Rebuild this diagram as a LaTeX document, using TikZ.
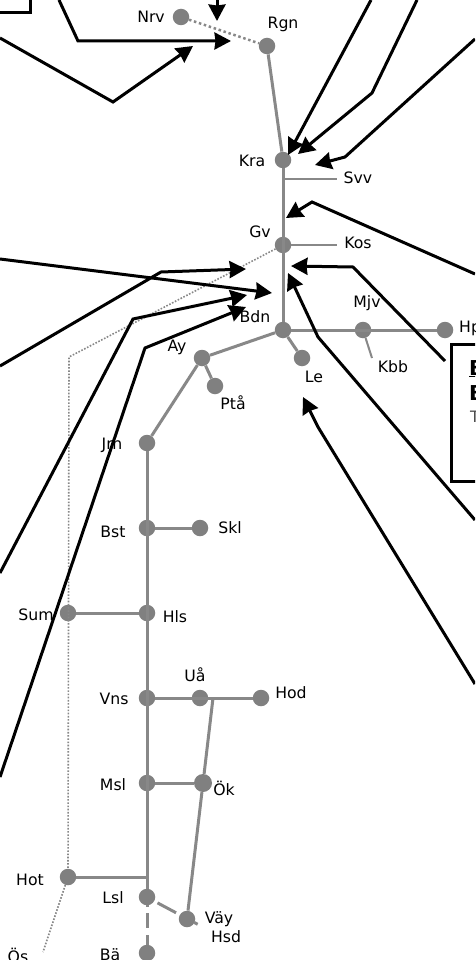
\documentclass[tikz,border=0pt]{standalone}
\usepackage{fontspec}
\setmainfont{DejaVu Sans}
\usetikzlibrary{arrows.meta}
\definecolor{linegray}{HTML}{888888}
\definecolor{stngray}{HTML}{808080}
\tikzset{
	stn/.style={circle,fill=stngray,inner sep=0pt,minimum size=16.5pt},
	lbl/.style={inner sep=0pt,font=\fontsize{15.7}{16}\selectfont,text=black},
	track/.style={linegray,line width=3pt},
	branch/.style={linegray,line width=2pt},
	flow/.style={-{Stealth[length=16.5pt,width=17pt,inset=1pt]},black,line width=3pt,miter limit=4},
	legend/.style={black,line width=3pt},
	boxhead/.style={lbl,anchor=base west,font=\fontsize{20.5}{21}\selectfont\bfseries}
}
\begin{document}
\begin{tikzpicture}[x=1pt,y=-1pt]
	\useasboundingbox (0,0) rectangle (475,960);
	\clip (0,0) rectangle (475,960);
	% Stations
	\node[stn] (nrv) at (181,17) {};
	\node[stn] (rgn) at (267,46) {};
	\node[stn] (kra) at (283,160) {};
	\node[stn] (gv) at (283,245) {};
	\node[stn] (bdn) at (283,330) {};
	\node[stn] (mjv) at (363,330) {};
	\node[stn] (hp) at (445,330) {};
	\node[stn] (le) at (302,358) {};
	\node[stn] (ay) at (202,358) {};
	\node[stn] (pta) at (215,386) {};
	\node[stn] (jrn) at (147,443) {};
	\node[stn] (bst) at (147,528) {};
	\node[stn] (skl) at (200,528) {};
	\node[stn] (sum) at (68,613) {};
	\node[stn] (hls) at (147,613) {};
	\node[stn] (vns) at (147,698) {};
	\node[stn] (ua) at (200,698) {};
	\node[stn] (hod) at (261,698) {};
	\node[stn] (msl) at (147,783) {};
	\node[stn,minimum size=18pt] (ok) at (203,783) {};
	\node[stn] (hot) at (68,877) {};
	\node[stn] (lsl) at (147,897) {};
	\node[stn] (vay) at (187,919) {};
	\node[stn] (ba) at (147,953) {};
	% Free ends of the grey lines
	\coordinate (svv) at (337,179);
	\coordinate (svvj) at (283,179);
	\coordinate (kos) at (337,245);
	\coordinate (kbb) at (372,358);
	\coordinate (hotj) at (147,877);
	\coordinate (uaj) at (213,698);
	\coordinate (vaydash) at (154,901);
	\coordinate (vayend) at (199,925);
	\coordinate (dotbend) at (69,357);
	\coordinate (os) at (43,952);
	% Grey lines
	\draw[track] (rgn) -- (kra);
	\draw[track] (kra) -- (bdn);
	\draw[branch] (svvj) -- (svv);
	\draw[branch] (gv) -- (kos);
	\draw[track] (bdn) -- (hp);
	\draw[branch] (mjv) -- (kbb);
	\draw[track] (bdn) -- (ay);
	\draw[track] (bdn) -- (le);
	\draw[track] (ay) -- (pta);
	\draw[track] (ay) -- (jrn);
	\draw[track] (jrn) -- (hotj) -- (lsl);
	\draw[track] (bst) -- (skl);
	\draw[track] (sum) -- (hls);
	\draw[track] (vns) -- (hod);
	\draw[track] (msl) -- (ok);
	\draw[track] (hot) -- (hotj);
	\draw[track] (uaj) -- (ok);
	\draw[track] (ok) -- (vay);
	\draw[track,dash pattern=on 0pt off 4pt on 21pt off 20.5pt on 4pt off 100pt] (vaydash) -- (vayend);
	\draw[track,dash pattern=on 2pt off 6pt on 15pt off 7pt on 10pt off 100pt] (lsl) -- (ba);
	% Dotted lines
	\draw[linegray,line width=2.5pt,dash pattern=on 2.5pt off 2.7pt] (nrv) -- (rgn);
	\draw[linegray,line width=1.6pt,dash pattern=on 1.6pt off 1.6pt] (gv) -- (dotbend) -- (hot);
	\draw[linegray,line width=1.6pt,dash pattern=on 1.6pt off 1.6pt] (hot) -- (os);
	% Labels
	\node[lbl] (nrvt) at (151,17) {Nrv};
	\node[lbl] (rgnt) at (283,24) {Rgn};
	\node[lbl] (krat) at (252,161) {Kra};
	\node[lbl] (svvt) at (358,178) {Svv};
	\node[lbl] (gvt) at (260,232) {Gv};
	\node[lbl] (kost) at (358,243) {Kos};
	\node[lbl] (bdnt) at (255,317) {Bdn};
	\node[lbl] (mjvt) at (367,303) {Mjv};
	\node[lbl,anchor=west] (hpt) at (459,328) {Hp};
	\node[lbl] (kbbt) at (393,367) {Kbb};
	\node[lbl] (ayt) at (177,347) {Ay};
	\node[lbl] (let) at (314,377) {Le};
	\node[lbl] (ptat) at (233,403) {Ptå};
	\node[lbl] (jrnt) at (112,445) {Jrn};
	\node[lbl] (bstt) at (113,532) {Bst};
	\node[lbl] (sklt) at (230,528) {Skl};
	\node[lbl] (sumt) at (36,615) {Sum};
	\node[lbl] (hlst) at (175,617) {Hls};
	\node[lbl] (uat) at (195,675) {Uå};
	\node[lbl] (vnst) at (114,699) {Vns};
	\node[lbl] (hodt) at (291,693) {Hod};
	\node[lbl] (mslt) at (113,785) {Msl};
	\node[lbl] (okt) at (224,788) {Ök};
	\node[lbl] (hott) at (30,880) {Hot};
	\node[lbl] (lslt) at (113,898) {Lsl};
	\node[lbl] (vayt) at (219,919) {Väy};
	\node[lbl] (hsdt) at (226,937) {Hsd};
	\node[lbl] (ost) at (18,955) {Ös};
	\node[lbl] (bat) at (110,955) {Bä};
	% Legend box
	\draw[legend,fill=white] (451,344) rectangle (500,481);
	\node[boxhead] (boxa) at (469,375) {\underline{B}};
	\node[boxhead] (boxb) at (469,400) {B};
	\node[lbl,anchor=base west,text=black!70] (boxc) at (470,422) {T};
	% Arrows from the top
	\coordinate (a1) at (0,13);
	\coordinate (a2) at (30,13);
	\coordinate (a3) at (30,0);
	\draw[legend] (a1) -- (a2) -- (a3);
	\coordinate (b1) at (59,0);
	\coordinate (b2) at (78,41);
	\coordinate (b3) at (231,41);
	\draw[flow] (b1) -- (b2) -- (b3);
	\coordinate (c1) at (0,38);
	\coordinate (c2) at (113,102);
	\coordinate (c3) at (193,46);
	\draw[flow] (c1) -- (c2) -- (c3);
	\coordinate (d1) at (217,0);
	\coordinate (d2) at (217,21);
	\draw[flow] (d1) -- (d2);
	\coordinate (e1) at (371,0);
	\coordinate (e2) at (288,155);
	\draw[flow] (e1) -- (e2);
	\coordinate (f1) at (417,0);
	\coordinate (f2) at (372,93);
	\coordinate (f3) at (298,154);
	\draw[flow] (f1) -- (f2) -- (f3);
	\coordinate (g1) at (475,39);
	\coordinate (g2) at (345,157);
	\coordinate (g3) at (315,165);
	\draw[flow] (g1) -- (g2) -- (g3);
	\coordinate (h1) at (475,274);
	\coordinate (h2) at (312,202);
	\coordinate (h3) at (286,218);
	\draw[flow] (h1) -- (h2) -- (h3);
	% Arrows to Bdn from the left
	\coordinate (i1) at (0,259);
	\coordinate (i2) at (272,293);
	\draw[flow] (i1) -- (i2);
	\coordinate (j1) at (0,366);
	\coordinate (j2) at (161,272);
	\coordinate (j3) at (246,269);
	\draw[flow] (j1) -- (j2) -- (j3);
	\coordinate (k1) at (0,573);
	\coordinate (k2) at (133,319);
	\coordinate (k3) at (247,295);
	\draw[flow] (k1) -- (k2) -- (k3);
	\coordinate (l1) at (0,777);
	\coordinate (l2) at (145,348);
	\coordinate (l3) at (246,307);
	\draw[flow] (l1) -- (l2) -- (l3);
	% Arrows from the right
	\coordinate (m1) at (445,361);
	\coordinate (m2) at (353,267);
	\coordinate (m3) at (291,266);
	\draw[flow] (m1) -- (m2) -- (m3);
	\coordinate (n1) at (475,520);
	\coordinate (n2) at (318,337);
	\coordinate (n3) at (288,273);
	\draw[flow] (n1) -- (n2) -- (n3);
	\coordinate (p1) at (475,684);
	\coordinate (p2) at (318,427);
	\coordinate (p3) at (303,397);
	\draw[flow] (p1) -- (p2) -- (p3);
\end{tikzpicture}
\end{document}
